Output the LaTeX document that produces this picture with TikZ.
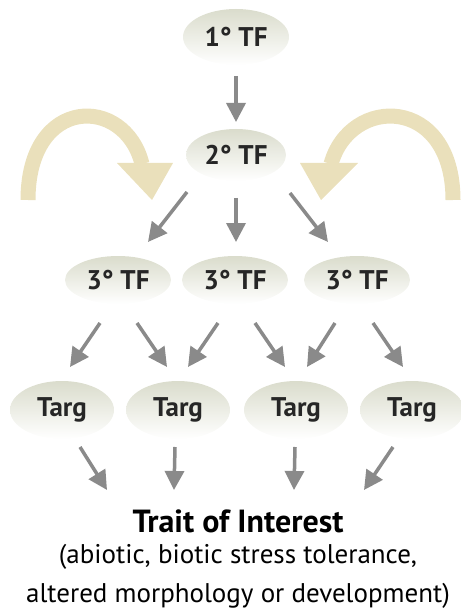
\documentclass[tikz,border=0pt]{standalone}
\usepackage{fontspec}
\setmainfont{PT Sans}
\usetikzlibrary{arrows.meta,shapes.geometric,calc}
\definecolor{tanc}{RGB}{234,224,187}
\definecolor{ellc}{RGB}{218,220,204}
\definecolor{arrc}{RGB}{138,138,138}
\tikzset{
  ell/.style={ellipse, inner sep=0pt, top color=ellc, middle color=ellc!55!white, bottom color=white,
    font=\bfseries\fontsize{27}{30}\selectfont, text=black!85},
  garrow/.style={draw=arrc, line width=3.5pt, -{Triangle[width=19pt,length=19pt]}},
  tanarc/.style={draw=tanc, line width=15pt},
}
\begin{document}
\begin{tikzpicture}[x=1pt,y=-1pt]
\useasboundingbox (0,0) rectangle (460,612);
% curved feedback arrows
\path[tanarc] (28,200) .. controls (28,95) and (125,95) .. (142,164);
\fill[tanc] (117,163) -- (173,163) -- (152,200) -- cycle;
\path[tanarc] (453,200) .. controls (453,95) and (350,95) .. (331,164);
\fill[tanc] (300,163) -- (358,163) -- (321,200) -- cycle;
% nodes
\node[ell, minimum width=106pt, minimum height=56pt] (p) at (236,37) {1° TF};
\node[ell, minimum width=100pt, minimum height=52pt] (s) at (236,155) {2° TF};
\node[ell, minimum width=106pt, minimum height=48pt] (t1) at (118,280) {3° TF};
\node[ell, minimum width=106pt, minimum height=48pt] (t2) at (235,280) {3° TF};
\node[ell, minimum width=106pt, minimum height=48pt] (t3) at (357,280) {3° TF};
\node[ell, minimum width=104pt, minimum height=58pt] (g1) at (62,410) {Targ};
\node[ell, minimum width=104pt, minimum height=58pt] (g2) at (178,410) {Targ};
\node[ell, minimum width=104pt, minimum height=58pt] (g3) at (296,410) {Targ};
\node[ell, minimum width=104pt, minimum height=58pt] (g4) at (412,410) {Targ};
\node[font=\bfseries\fontsize{32}{36}\selectfont] (trait) at (238,521) {Trait of Interest};
\node[align=center, font=\fontsize{27}{39}\selectfont, anchor=north] (desc) at (238,541)
  {(abiotic, biotic stress tolerance,\\altered morphology or development)};
% connectors
\draw[garrow] ([shift={(0,39)}]p.center) -- ([shift={(0,-33)}]s.center);
\draw[garrow] ([shift={(-49,37)}]s.center) -- ([shift={(30,-38)}]t1.center);
\draw[garrow] ([shift={(0,43)}]s.center) -- ([shift={(1,-38)}]t2.center);
\draw[garrow] ([shift={(54,38)}]s.center) -- ([shift={(-29,-38)}]t3.center);
\draw[garrow] ([shift={(-18,43)}]t1.center) -- ([shift={(8,-43)}]g1.center);
\draw[garrow] ([shift={(19,43)}]t1.center) -- ([shift={(-11,-43)}]g2.center);
\draw[garrow] ([shift={(-17,43)}]t2.center) -- ([shift={(10,-43)}]g2.center);
\draw[garrow] ([shift={(20,43)}]t2.center) -- ([shift={(-11,-43)}]g3.center);
\draw[garrow] ([shift={(-22,43)}]t3.center) -- ([shift={(11,-43)}]g3.center);
\draw[garrow] ([shift={(16,43)}]t3.center) -- ([shift={(-9,-43)}]g4.center);
\draw[garrow] ([shift={(18,37)}]g1.center) -- ([shift={(-131,-31)}]trait.center);
\draw[garrow] ([shift={(-3,37)}]g2.center) -- ([shift={(-64,-31)}]trait.center);
\draw[garrow] ([shift={(-1,37)}]g3.center) -- ([shift={(56,-31)}]trait.center);
\draw[garrow] ([shift={(-19,37)}]g4.center) -- ([shift={(126,-31)}]trait.center);
\end{tikzpicture}
\end{document}
